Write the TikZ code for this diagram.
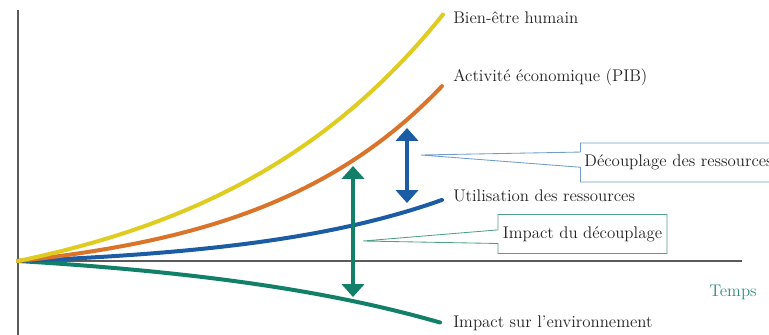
\documentclass[tikz,border=0pt]{standalone}
\usepackage{fontspec}
\usetikzlibrary{arrows.meta,shapes.callouts}

\definecolor{jaune}{RGB}{222,204,32}
\definecolor{orange}{RGB}{217,116,42}
\definecolor{bleu}{RGB}{28,92,164}
\definecolor{vert}{RGB}{18,128,104}
\definecolor{axe}{RGB}{90,90,90}
\definecolor{texte}{RGB}{35,35,35}
\definecolor{bordbleu}{RGB}{112,156,200}
\definecolor{bordvert}{RGB}{80,160,136}
\definecolor{temps}{RGB}{52,140,124}

\tikzset{
	courbe/.style={line width=0.1cm, line cap=round},
	etiquette/.style={anchor=west, inner sep=0pt, text=texte, font=\fontsize{12}{14}\selectfont},
	fleche/.style={line width=0.1cm, {Triangle[width=0.55cm,length=0.32cm]}-{Triangle[width=0.55cm,length=0.32cm]}},
	bulle/.style={rectangle callout, draw, fill=white, line width=0.6pt, text=texte,
		font=\fontsize{12}{14}\selectfont, minimum height=0.975cm, inner xsep=0.1cm}
}

\begin{document}
\begin{tikzpicture}[x=0.025cm,y=-0.025cm]
			
			\useasboundingbox (0,0) rectangle (769,335);
			
			%Axes
			\coordinate (origine) at (18,261);
			\coordinate (axeHaut) at (18,10);
			\coordinate (axeBas) at (18,335);
			\coordinate (axeDroite) at (742,261);
			\draw[axe, line width=1.4pt] (axeHaut) -- (axeBas);
			\draw[axe, line width=1.4pt] (origine) -- (axeDroite);
			\node (temps) at (733,292) [text=temps, font=\fontsize{12}{14}\selectfont]{Temps};
			
			%Courbes
			\draw[courbe, vert] plot[domain=0:422, samples=60, smooth] ({18+\x},{261+16.4*(exp(0.0037*\x)-1)});
			\draw[courbe, bleu] plot[domain=0:424, samples=60, smooth] ({18+\x},{261-7.56*(exp(0.0052*\x)-1)});
			\draw[courbe, orange] plot[domain=0:424, samples=60, smooth] ({18+\x},{261-19.7*(exp(0.0054*\x)-1)});
			\draw[courbe, jaune] plot[domain=0:425, samples=60, smooth] ({18+\x},{261-49.8*(exp(0.0042*\x)-1)});
			
			%Etiquettes
			\node (bienEtre) at (453,18) [etiquette]{Bien-être humain};
			\node (activite) at (453,77) [etiquette]{Activité économique (PIB)};
			\node (utilisation) at (453,196) [etiquette]{Utilisation des ressources};
			\node (impactEnv) at (453,323) [etiquette]{Impact sur l'environnement};
			
			%Fleches
			\coordinate (bleuHaut) at (407,128);
			\coordinate (bleuBas) at (407,203);
			\coordinate (vertHaut) at (353,166);
			\coordinate (vertBas) at (353,297);
			\draw[fleche, bleu] (bleuHaut) -- (bleuBas);
			\draw[fleche, vert] (vertHaut) -- (vertBas);
			
			%Bulles
			\coordinate (pointeDecouplage) at (421,155);
			\coordinate (pointeImpact) at (363,241);
			\node (decouplage) at (580,162.5) [bulle, anchor=west, draw=bordbleu,
			callout absolute pointer=(pointeDecouplage), callout pointer width=0.38cm]{Découplage des ressources};
			\node (impactDec) at (582.5,234) [bulle, draw=bordvert, minimum width=4.225cm,
			callout absolute pointer=(pointeImpact), callout pointer width=0.34cm]{Impact du découplage};
			
\end{tikzpicture}
\end{document}
